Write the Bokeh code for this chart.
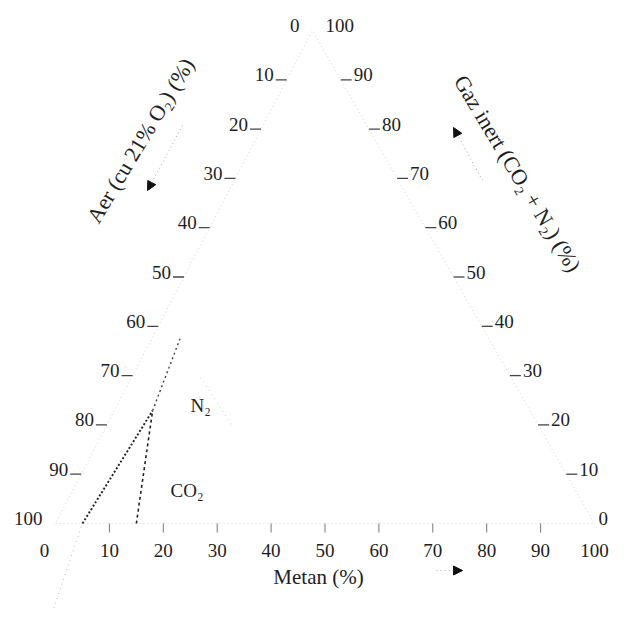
from bokeh.plotting import figure
from bokeh.models import Range1d, Arrow, NormalHead
from bokeh.core.properties import value
from bokeh.embed import file_html
from bokeh.resources import INLINE

# ---------------- data (percent) ----------------
tick_values = [0, 10, 20, 30, 40, 50, 60, 70, 80, 90, 100]
tick_labels = [str(v) for v in tick_values]

# flammability boundary lines, ternary coords (Metan %, Gaz inert %)
lower_limit_metan = [5.0, 7.1]
lower_limit_inert = [0.0, 22.9]
upper_limit_metan = [15.0, 7.1]
upper_limit_inert = [0.0, 22.9]
n2_line_metan = [7.1, 5.2]
n2_line_inert = [22.9, 37.7]
ext_line_metan = [8.2, 5.0]
ext_line_inert = [-19.1, 0.0]
faint_line_metan = [12.8, 23.7]
faint_line_inert = [29.6, 19.5]

title_left = "Aer (cu 21% O\u2082) (%)"
title_right = "Gaz inert (CO\u2082 + N\u2082) (%)"
title_bottom = "Metan (%)"

# ---------------- layout ----------------
W = H = 609


def S(sx, sy):
    """picture pixel (from top-left) -> plot coordinate"""
    return float(sx), H - float(sy)


BLv = S(55, 523)
BRv = S(594, 523)
APv = S(312, 30)


def tern(m, g):
    a = 100.0 - m - g
    x = (BLv[0] * a + BRv[0] * m + APv[0] * g) / 100.0
    y = (BLv[1] * a + BRv[1] * m + APv[1] * g) / 100.0
    return x, y


def tern_list(ms, gs):
    pts = [tern(m, g) for m, g in zip(ms, gs)]
    return [q[0] for q in pts], [q[1] for q in pts]


p = figure(width=W, height=H, x_range=Range1d(0, W), y_range=Range1d(0, H),
           toolbar_location=None, output_backend="svg", min_border=0)
p.axis.visible = False
p.grid.visible = False
p.outline_line_color = None
p.background_fill_color = "white"

FONT = value("Liberation Serif")
TXT = "#1e1e1e"
TICK_FS = "19px"

# triangle edges (very faint in reference)
ex, ey = tern_list([0, 100, 0, 0], [0, 0, 100, 0])
p.line(ex, ey, line_color="#d6d6d6", line_width=1, line_dash="1 3")

# left axis: Aer, 0 at apex, 100 at bottom-left
lx0, lx1, ly = [], [], []
ltx, lty = [], []
for v in tick_values:
    x, y = tern(0, 100 - v)
    lx0.append(x - 11); lx1.append(x); ly.append(y)
    ltx.append(x - 13); lty.append(y + 5)
p.segment(lx0[1:-1], ly[1:-1], lx1[1:-1], ly[1:-1], line_color="#444", line_width=1.3)
p.text(ltx, lty, text=tick_labels, text_font=FONT, text_font_size=TICK_FS,
       text_align="right", text_baseline="middle", text_color=TXT)

# right axis: Gaz inert, 0 at bottom-right, 100 at apex
rx0, rx1, ry = [], [], []
rtx, rty = [], []
for v in tick_values:
    x, y = tern(100 - v, v)
    rx0.append(x); rx1.append(x + 11); ry.append(y)
    rtx.append(x + (13 if v > 0 else 4)); rty.append(y + 5)
p.segment(rx0[1:-1], ry[1:-1], rx1[1:-1], ry[1:-1], line_color="#444", line_width=1.3)
p.text(rtx, rty, text=tick_labels, text_font=FONT, text_font_size=TICK_FS,
       text_align="left", text_baseline="middle", text_color=TXT)

# bottom axis: Metan
bx, by0, by1, btx, bty = [], [], [], [], []
for v in tick_values:
    x, y = tern(v, 0)
    bx.append(x); by0.append(y); by1.append(y - 9)
    btx.append(x - (11 if v == 0 else 0)); bty.append(y - 27)
p.segment(bx[1:-1], by0[1:-1], bx[1:-1], by1[1:-1], line_color="#777", line_width=1)
p.text(btx, bty, text=tick_labels, text_font=FONT, text_font_size=TICK_FS,
       text_align="center", text_baseline="middle", text_color=TXT)

# flammability lines
x, y = tern_list(lower_limit_metan, lower_limit_inert)
p.line(x, y, line_color="#222", line_width=1.9, line_dash="2 2")
x, y = tern_list(upper_limit_metan, upper_limit_inert)
p.line(x, y, line_color="#222", line_width=1.6, line_dash="3 3")
x, y = tern_list(n2_line_metan, n2_line_inert)
p.line(x, y, line_color="#444", line_width=1.4, line_dash="2 3")
x, y = tern_list(ext_line_metan, ext_line_inert)
p.line(x, y, line_color="#bbbbbb", line_width=1, line_dash="1 4")
x, y = tern_list(faint_line_metan, faint_line_inert)
p.line(x, y, line_color="#cccccc", line_width=1, line_dash="1 4")

# labels of the inert lines
nx, ny = S(190, 405)
cx, cy = S(170, 490)
p.text([nx], [ny], text=["N\u2082"], text_font=FONT, text_font_size="19px",
       text_align="left", text_baseline="middle", text_color=TXT)
p.text([cx], [cy], text=["CO\u2082"], text_font=FONT, text_font_size="19px",
       text_align="left", text_baseline="middle", text_color=TXT)

# axis titles
tlx, tly = S(140, 140)
trx, try_ = S(517, 173)
tbx, tby = S(318, 576)
p.text([tlx], [tly], text=[title_left], angle=1.03, text_font=FONT, text_font_size="22px",
       text_align="center", text_baseline="middle", text_color=TXT)
p.text([trx], [try_], text=[title_right], angle=-1.03, text_font=FONT, text_font_size="22px",
       text_align="center", text_baseline="middle", text_color=TXT)
p.text([tbx], [tby], text=[title_bottom], text_font=FONT, text_font_size="21px",
       text_align="center", text_baseline="middle", text_color=TXT)

# direction arrows
for (s0, s1) in [((182, 125), (147, 190)), ((482, 180), (453, 127)), ((436, 570), (462, 570))]:
    xs, ys = S(*s0)
    xe, ye = S(*s1)
    p.add_layout(Arrow(end=NormalHead(size=9, fill_color="#111", line_color="#111"),
                       x_start=xs, y_start=ys, x_end=xe, y_end=ye,
                       line_color="#aaaaaa", line_width=1, line_dash="1 3"))

open("out.html", "w").write(file_html(p, INLINE))
